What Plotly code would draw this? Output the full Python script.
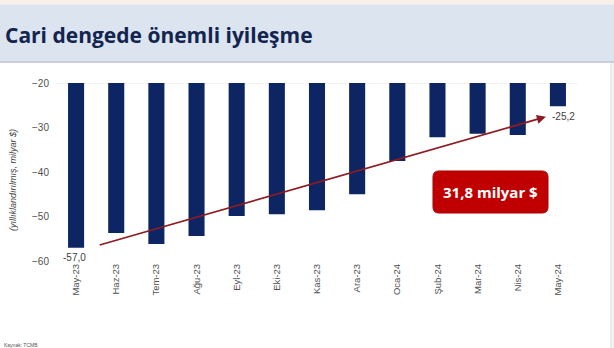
import plotly.graph_objects as go

months = ["May-23", "Haz-23", "Tem-23", "Ağu-23", "Eyl-23", "Eki-23", "Kas-23",
          "Ara-23", "Oca-24", "Şub-24", "Mar-24", "Nis-24", "May-24"]
values = [-57.0, -53.7, -56.2, -54.4, -49.9, -49.5, -48.6, -45.0, -37.5, -32.2, -31.4, -31.7, -25.2]
y_ticks = [-60, -50, -40, -30, -20]

W, H = 614, 348
L, R, T, B = 56, 36, 83, 87
pw, ph = W - L - R, H - T - B

def px(x):
    return (x - L) / pw

def py(y):
    return (H - B - y) / ph

def fmt(v):
    return f"{v:.1f}".replace(".", ",")

fig = go.Figure()
fig.add_trace(go.Bar(x=months, y=values, marker=dict(color="#0E2563", line=dict(width=0)),
                     width=0.4, hoverinfo="skip"))

shapes = []
# top pink strip and title banner
shapes.append(dict(type="rect", xref="paper", yref="paper", x0=px(0), x1=px(W), y0=py(0), y1=py(4.5),
                   fillcolor="#F8EFEB", line=dict(width=0), layer="below"))
shapes.append(dict(type="rect", xref="paper", yref="paper", x0=px(0), x1=px(W), y0=py(4.5), y1=py(61.5),
                   fillcolor="#DBE4EF", line=dict(width=0), layer="below"))
shapes.append(dict(type="line", xref="paper", yref="paper", x0=px(0), x1=px(W), y0=py(62), y1=py(62),
                   line=dict(color="#B9C3CF", width=1.5), layer="below"))
# right edge line
shapes.append(dict(type="line", xref="paper", yref="paper", x0=px(611), x1=px(611), y0=py(63), y1=py(348),
                   line=dict(color="#D5D5D5", width=1), layer="below"))
shapes.append(dict(type="rect", xref="paper", yref="paper", x0=px(611.5), x1=px(W), y0=py(63), y1=py(348),
                   fillcolor="#F2F2F2", line=dict(width=0), layer="below"))
# top gridline
shapes.append(dict(type="line", xref="paper", yref="y", x0=0, x1=1, y0=-20, y1=-20,
                   line=dict(color="#E8E8E8", width=1), layer="below"))
# rounded red box
bx0, bx1, by0, by1, r = 433, 548, 171, 213, 6
def conv_path():
    pts = [(bx0+r, by0), (bx1-r, by0), (bx1, by0), (bx1, by0+r), (bx1, by1-r), (bx1, by1), (bx1-r, by1),
           (bx0+r, by1), (bx0, by1), (bx0, by1-r), (bx0, by0+r), (bx0, by0), (bx0+r, by0)]
    p = [f"{px(x):.5f},{py(y):.5f}" for x, y in pts]
    return (f"M {p[0]} L {p[1]} Q {p[2]} {p[3]} L {p[4]} Q {p[5]} {p[6]} L {p[7]} "
            f"Q {p[8]} {p[9]} L {p[10]} Q {p[11]} {p[12]} Z")
shapes.append(dict(type="path", xref="paper", yref="paper", path=conv_path(),
                   fillcolor="#C00000", line=dict(color="#A80000", width=1)))

annotations = []
annotations.append(dict(text="<b>Cari dengede önemli iyileşme</b>", xref="paper", yref="paper",
                        x=px(3), y=py(35), xanchor="left", yanchor="middle", showarrow=False,
                        font=dict(family="Open Sans", size=21, color="#13244F")))
annotations.append(dict(text="<i>(yıllıklandırılmış, milyar $)</i>", xref="paper", yref="paper",
                        x=px(13), y=py(180), xanchor="center", yanchor="middle", textangle=-90,
                        showarrow=False, font=dict(family="Liberation Sans", size=9, color="#404040")))
annotations.append(dict(text="Kaynak: TCMB", xref="paper", yref="paper", x=px(2), y=py(345),
                        xanchor="left", yanchor="middle", showarrow=False,
                        font=dict(family="Liberation Sans", size=5, color="#555555")))
# data labels
annotations.append(dict(text=fmt(values[0]), x=0, y=values[0], xref="x", yref="y", showarrow=False,
                        yanchor="top", xanchor="center", xshift=-2, yshift=-2,
                        font=dict(family="Liberation Sans", size=10, color="#404040")))
annotations.append(dict(text=fmt(values[-1]), x=len(values) - 1, y=values[-1], xref="x", yref="y",
                        showarrow=False, yanchor="top", xanchor="left", xshift=-8, yshift=-3,
                        font=dict(family="Liberation Sans", size=10, color="#404040")))
# arrow
annotations.append(dict(x=11.7, y=-27.6, ax=0.55, ay=-56.5, xref="x", yref="y", axref="x", ayref="y",
                        text="", showarrow=True, arrowhead=2, arrowsize=1, arrowwidth=1.8,
                        arrowcolor="#8E1B22"))
# box text
annotations.append(dict(text=f"<b>{fmt(values[-1] - values[0])} milyar $</b>", xref="paper", yref="paper",
                        x=px((bx0 + bx1) / 2), y=py((by0 + by1) / 2), showarrow=False,
                        xanchor="center", yanchor="middle",
                        font=dict(family="Open Sans", size=15, color="white")))

fig.update_layout(
    width=W, height=H, margin=dict(l=L, r=R, t=T, b=B),
    paper_bgcolor="white", plot_bgcolor="white", showlegend=False,
    separators=",.", shapes=shapes, annotations=annotations,
    bargap=0.6,
    xaxis=dict(tickangle=-90, showgrid=False, showline=False, zeroline=False, ticks="",
               tickfont=dict(family="Liberation Sans", size=9.5, color="#505050"),
               range=[-0.5, len(months) - 0.5]),
    yaxis=dict(range=[-60, -20], tickvals=y_ticks, showgrid=False, zeroline=False, showline=False,
               ticks="", ticklabelstandoff=6,
               tickfont=dict(family="Liberation Sans", size=10, color="#505050")),
)

fig.write_html("out.html")
